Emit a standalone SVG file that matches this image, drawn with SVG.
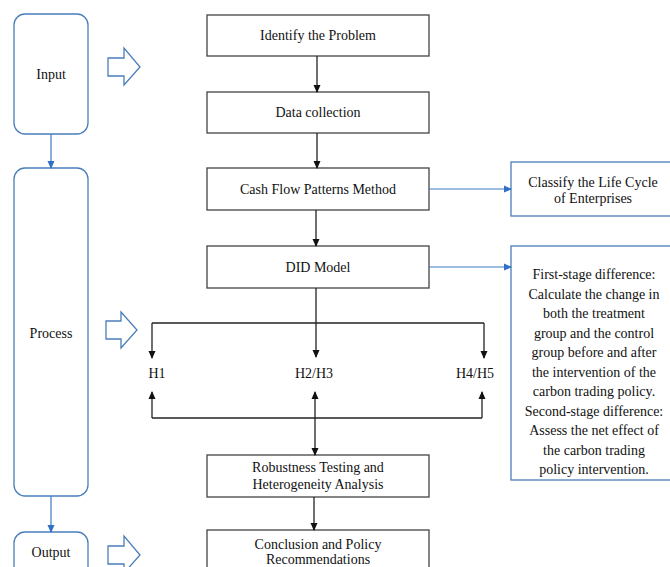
<svg xmlns="http://www.w3.org/2000/svg" width="670" height="567" viewBox="0 0 670 567">
<style>
.t{font-family:"Liberation Serif","Times New Roman",serif;font-size:14px;fill:#111;text-anchor:middle}
.box{fill:#fff;stroke:#444;stroke-width:1.3}
.side{fill:#fff;stroke:#4a7ebb;stroke-width:1.3}
.blk{stroke:#222;stroke-width:1.3;fill:none}
.blu{stroke:#3c78c8;stroke-width:1.2;fill:none}
.hol{fill:#fff;stroke:#4a7ebb;stroke-width:1.3}
</style>
<defs>
<marker id="ab" markerWidth="8" markerHeight="8" refX="7" refY="4" orient="auto" markerUnits="userSpaceOnUse"><path d="M0,0.5 L8,4 L0,7.5 Z" fill="#111"/></marker>
<marker id="as" markerWidth="8" markerHeight="8" refX="1" refY="4" orient="auto" markerUnits="userSpaceOnUse"><path d="M8,0.5 L0,4 L8,7.5 Z" fill="#111"/></marker>
<marker id="au" markerWidth="8" markerHeight="8" refX="7" refY="4" orient="auto" markerUnits="userSpaceOnUse"><path d="M0,0.5 L8,4 L0,7.5 Z" fill="#2f6fc4"/></marker>
</defs>
<g id="input"><rect class="side" x="14" y="14" width="74" height="120" rx="11"/><text class="t" x="51" y="79">Input</text></g>
<g id="process"><rect class="side" x="14" y="168" width="74" height="328" rx="11"/><text class="t" x="51" y="338">Process</text></g>
<g id="output"><rect class="side" x="14" y="532" width="74" height="60" rx="11"/><text class="t" x="51" y="557">Output</text></g>
<g id="arrow-input"><path class="hol" d="M108,58 H124 V48 L140,67 L124,85 V76 H108 Z"/></g>
<g id="arrow-process"><path class="hol" d="M106,321 H121 V312 L137,330 L121,348 V339 H106 Z"/></g>
<g id="arrow-output"><path class="hol" d="M108,546 H124 V536 L140,555 L124,573 V564 H108 Z"/></g>
<g id="identify"><rect class="box" x="207" y="15" width="222" height="41"/><text class="t" x="318" y="40">Identify the Problem</text></g>
<g id="data"><rect class="box" x="207" y="92" width="222" height="41"/><text class="t" x="318" y="117">Data collection</text></g>
<g id="cashflow"><rect class="box" x="207" y="168" width="222" height="42"/><text class="t" x="318" y="194">Cash Flow Patterns Method</text></g>
<g id="did"><rect class="box" x="207" y="246" width="222" height="42"/><text class="t" x="318" y="272">DID Model</text></g>
<g id="robust"><rect class="box" x="207" y="455" width="222" height="42"/><text class="t" x="318" y="472">Robustness Testing and</text><text class="t" x="318" y="489">Heterogeneity Analysis</text></g>
<g id="conclusion"><rect class="box" x="207" y="530" width="222" height="50"/><text class="t" x="318" y="549">Conclusion and Policy</text><text class="t" x="318" y="564">Recommendations</text></g>
<g id="classify"><rect class="side" x="511" y="162" width="166" height="54"/><text class="t" x="593" y="187">Classify the Life Cycle</text><text class="t" x="593" y="203">of Enterprises</text></g>
<g id="didtext"><rect class="side" x="511" y="246" width="166" height="234"/>
<text class="t" x="594" y="279">First-stage difference:</text>
<text class="t" x="594" y="298.5">Calculate the change in</text>
<text class="t" x="594" y="318">both the treatment</text>
<text class="t" x="594" y="337.5">group and the control</text>
<text class="t" x="594" y="357">group before and after</text>
<text class="t" x="594" y="376.5">the intervention of the</text>
<text class="t" x="594" y="396">carbon trading policy.</text>
<text class="t" x="594" y="415.5">Second-stage difference:</text>
<text class="t" x="594" y="435">Assess the net effect of</text>
<text class="t" x="594" y="454.5">the carbon trading</text>
<text class="t" x="594" y="474">policy intervention.</text>
</g>
<g id="h1"><text class="t" x="157" y="378">H1</text></g>
<g id="h23"><text class="t" x="314" y="378">H2/H3</text></g>
<g id="h45"><text class="t" x="475" y="378">H4/H5</text></g>
<g id="connectors">
<line class="blu" x1="51" y1="134" x2="51" y2="168" marker-end="url(#au)"/>
<line class="blu" x1="51" y1="496" x2="51" y2="532" marker-end="url(#au)"/>
<line class="blu" x1="429" y1="189" x2="511" y2="189" marker-end="url(#au)"/>
<line class="blu" x1="429" y1="267" x2="511" y2="267" marker-end="url(#au)"/>
<line class="blk" x1="317" y1="56" x2="317" y2="92" marker-end="url(#ab)"/>
<line class="blk" x1="317" y1="133" x2="317" y2="168" marker-end="url(#ab)"/>
<line class="blk" x1="316" y1="210" x2="316" y2="246" marker-end="url(#ab)"/>
<line class="blk" x1="316" y1="288" x2="316" y2="357" marker-end="url(#ab)"/>
<path class="blk" d="M152,323 H484"/>
<line class="blk" x1="152" y1="323" x2="152" y2="358" marker-end="url(#ab)"/>
<line class="blk" x1="484" y1="323" x2="484" y2="358" marker-end="url(#ab)"/>
<path class="blk" d="M152,418 H482"/>
<line class="blk" x1="152" y1="418" x2="152" y2="392" marker-end="url(#ab)"/>
<line class="blk" x1="482" y1="418" x2="482" y2="392" marker-end="url(#ab)"/>
<line class="blk" x1="315" y1="392" x2="315" y2="455" marker-start="url(#as)" marker-end="url(#ab)"/>
<line class="blk" x1="314" y1="497" x2="314" y2="530" marker-end="url(#ab)"/>
</g>
</svg>
